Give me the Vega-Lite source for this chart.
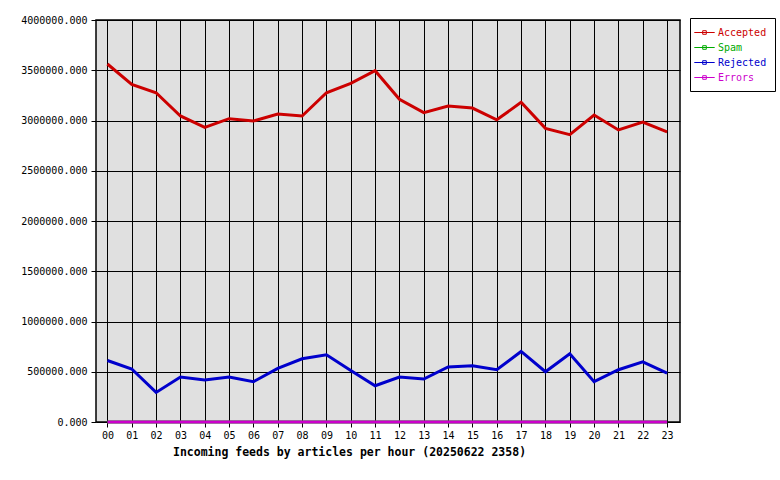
{
  "$schema": "https://vega.github.io/schema/vega-lite/v6.json",
  "autosize": "none",
  "width": 584,
  "height": 402,
  "padding": {"left": 96, "top": 20, "right": 100, "bottom": 58},
  "background": "white",
  "config": {
    "view": {"fill": "#e0e0e0", "stroke": "black", "strokeWidth": 1.5},
    "font": "DejaVu Sans Mono"
  },
  "data": {
    "values": [
      {"hour": 0, "series": "Accepted", "value": 3562000},
      {"hour": 1, "series": "Accepted", "value": 3360000},
      {"hour": 2, "series": "Accepted", "value": 3276000},
      {"hour": 3, "series": "Accepted", "value": 3045000},
      {"hour": 4, "series": "Accepted", "value": 2932000},
      {"hour": 5, "series": "Accepted", "value": 3018000},
      {"hour": 6, "series": "Accepted", "value": 2995000},
      {"hour": 7, "series": "Accepted", "value": 3065000},
      {"hour": 8, "series": "Accepted", "value": 3045000},
      {"hour": 9, "series": "Accepted", "value": 3276000},
      {"hour": 10, "series": "Accepted", "value": 3370000},
      {"hour": 11, "series": "Accepted", "value": 3495000},
      {"hour": 12, "series": "Accepted", "value": 3211000},
      {"hour": 13, "series": "Accepted", "value": 3078000},
      {"hour": 14, "series": "Accepted", "value": 3144000},
      {"hour": 15, "series": "Accepted", "value": 3124000},
      {"hour": 16, "series": "Accepted", "value": 3007000},
      {"hour": 17, "series": "Accepted", "value": 3181000},
      {"hour": 18, "series": "Accepted", "value": 2922000},
      {"hour": 19, "series": "Accepted", "value": 2859000},
      {"hour": 20, "series": "Accepted", "value": 3055000},
      {"hour": 21, "series": "Accepted", "value": 2906000},
      {"hour": 22, "series": "Accepted", "value": 2985000},
      {"hour": 23, "series": "Accepted", "value": 2886000},
      {"hour": 0, "series": "Spam", "value": 0},
      {"hour": 1, "series": "Spam", "value": 0},
      {"hour": 2, "series": "Spam", "value": 0},
      {"hour": 3, "series": "Spam", "value": 0},
      {"hour": 4, "series": "Spam", "value": 0},
      {"hour": 5, "series": "Spam", "value": 0},
      {"hour": 6, "series": "Spam", "value": 0},
      {"hour": 7, "series": "Spam", "value": 0},
      {"hour": 8, "series": "Spam", "value": 0},
      {"hour": 9, "series": "Spam", "value": 0},
      {"hour": 10, "series": "Spam", "value": 0},
      {"hour": 11, "series": "Spam", "value": 0},
      {"hour": 12, "series": "Spam", "value": 0},
      {"hour": 13, "series": "Spam", "value": 0},
      {"hour": 14, "series": "Spam", "value": 0},
      {"hour": 15, "series": "Spam", "value": 0},
      {"hour": 16, "series": "Spam", "value": 0},
      {"hour": 17, "series": "Spam", "value": 0},
      {"hour": 18, "series": "Spam", "value": 0},
      {"hour": 19, "series": "Spam", "value": 0},
      {"hour": 20, "series": "Spam", "value": 0},
      {"hour": 21, "series": "Spam", "value": 0},
      {"hour": 22, "series": "Spam", "value": 0},
      {"hour": 23, "series": "Spam", "value": 0},
      {"hour": 0, "series": "Rejected", "value": 612000},
      {"hour": 1, "series": "Rejected", "value": 527000},
      {"hour": 2, "series": "Rejected", "value": 294000},
      {"hour": 3, "series": "Rejected", "value": 447000},
      {"hour": 4, "series": "Rejected", "value": 417000},
      {"hour": 5, "series": "Rejected", "value": 447000},
      {"hour": 6, "series": "Rejected", "value": 401000},
      {"hour": 7, "series": "Rejected", "value": 533000},
      {"hour": 8, "series": "Rejected", "value": 629000},
      {"hour": 9, "series": "Rejected", "value": 669000},
      {"hour": 10, "series": "Rejected", "value": 513000},
      {"hour": 11, "series": "Rejected", "value": 361000},
      {"hour": 12, "series": "Rejected", "value": 447000},
      {"hour": 13, "series": "Rejected", "value": 427000},
      {"hour": 14, "series": "Rejected", "value": 547000},
      {"hour": 15, "series": "Rejected", "value": 560000},
      {"hour": 16, "series": "Rejected", "value": 520000},
      {"hour": 17, "series": "Rejected", "value": 702000},
      {"hour": 18, "series": "Rejected", "value": 500000},
      {"hour": 19, "series": "Rejected", "value": 679000},
      {"hour": 20, "series": "Rejected", "value": 401000},
      {"hour": 21, "series": "Rejected", "value": 520000},
      {"hour": 22, "series": "Rejected", "value": 599000},
      {"hour": 23, "series": "Rejected", "value": 487000},
      {"hour": 0, "series": "Errors", "value": 0},
      {"hour": 1, "series": "Errors", "value": 0},
      {"hour": 2, "series": "Errors", "value": 0},
      {"hour": 3, "series": "Errors", "value": 0},
      {"hour": 4, "series": "Errors", "value": 0},
      {"hour": 5, "series": "Errors", "value": 0},
      {"hour": 6, "series": "Errors", "value": 0},
      {"hour": 7, "series": "Errors", "value": 0},
      {"hour": 8, "series": "Errors", "value": 0},
      {"hour": 9, "series": "Errors", "value": 0},
      {"hour": 10, "series": "Errors", "value": 0},
      {"hour": 11, "series": "Errors", "value": 0},
      {"hour": 12, "series": "Errors", "value": 0},
      {"hour": 13, "series": "Errors", "value": 0},
      {"hour": 14, "series": "Errors", "value": 0},
      {"hour": 15, "series": "Errors", "value": 0},
      {"hour": 16, "series": "Errors", "value": 0},
      {"hour": 17, "series": "Errors", "value": 0},
      {"hour": 18, "series": "Errors", "value": 0},
      {"hour": 19, "series": "Errors", "value": 0},
      {"hour": 20, "series": "Errors", "value": 0},
      {"hour": 21, "series": "Errors", "value": 0},
      {"hour": 22, "series": "Errors", "value": 0},
      {"hour": 23, "series": "Errors", "value": 0}
    ]
  },
  "mark": {"type": "line", "strokeWidth": 3, "clip": false},
  "encoding": {
    "x": {
      "field": "hour",
      "type": "quantitative",
      "scale": {"domain": [-0.47, 23.53], "nice": false, "zero": false},
      "axis": {
        "values": [0,1,2,3,4,5,6,7,8,9,10,11,12,13,14,15,16,17,18,19,20,21,22,23],
        "format": "02d",
        "grid": true,
        "gridColor": "black",
        "gridOpacity": 1,
        "gridWidth": 1,
        "domain": false,
        "tickColor": "black",
        "tickSize": 5,
        "tickWidth": 1,
        "labelFont": "DejaVu Sans Mono",
        "labelFontSize": 10,
        "labelColor": "black",
        "labelPadding": 3,
        "title": "Incoming feeds by articles per hour (20250622 2358)",
        "titleFont": "DejaVu Sans Mono",
        "titleFontSize": 11.5,
        "titleFontWeight": "bold",
        "titleColor": "black",
        "titleX": 253,
        "titleY": 24,
        "titleAnchor": "middle",
        "titleAlign": "center"
      }
    },
    "y": {
      "field": "value",
      "type": "quantitative",
      "scale": {"domain": [0, 4000000], "nice": false},
      "axis": {
        "values": [0, 500000, 1000000, 1500000, 2000000, 2500000, 3000000, 3500000, 4000000],
        "format": ".3f",
        "grid": true,
        "gridColor": "black",
        "gridOpacity": 1,
        "gridWidth": 1,
        "domain": false,
        "tickColor": "black",
        "tickSize": 5,
        "tickWidth": 1,
        "labelFont": "DejaVu Sans Mono",
        "labelFontSize": 10,
        "labelColor": "black",
        "labelPadding": 4,
        "title": null
      }
    },
    "color": {
      "field": "series",
      "type": "nominal",
      "sort": ["Accepted", "Spam", "Rejected", "Errors"],
      "scale": {
        "domain": ["Accepted", "Spam", "Rejected", "Errors"],
        "range": ["#cc0000", "#00aa00", "#0000cc", "#cc00cc"]
      },
      "legend": {
        "orient": "none",
        "legendX": 594,
        "legendY": -2,
        "title": null,
        "strokeColor": "black",
        "fillColor": "white",
        "padding": 8,
        "symbolType": "M-1.7,0H1.7M-0.3,-0.3H0.3V0.3H-0.3Z",
        "symbolSize": 144,
        "symbolStrokeWidth": 1,
        "labelFont": "DejaVu Sans Mono",
        "labelFontSize": 10,
        "labelOffset": 7,
        "rowPadding": 3,
        "encode": {
          "labels": {"update": {"fill": {"scale": "color", "field": "value"}}}
        }
      }
    },
    "order": {"field": "hour", "type": "quantitative"}
  }
}
